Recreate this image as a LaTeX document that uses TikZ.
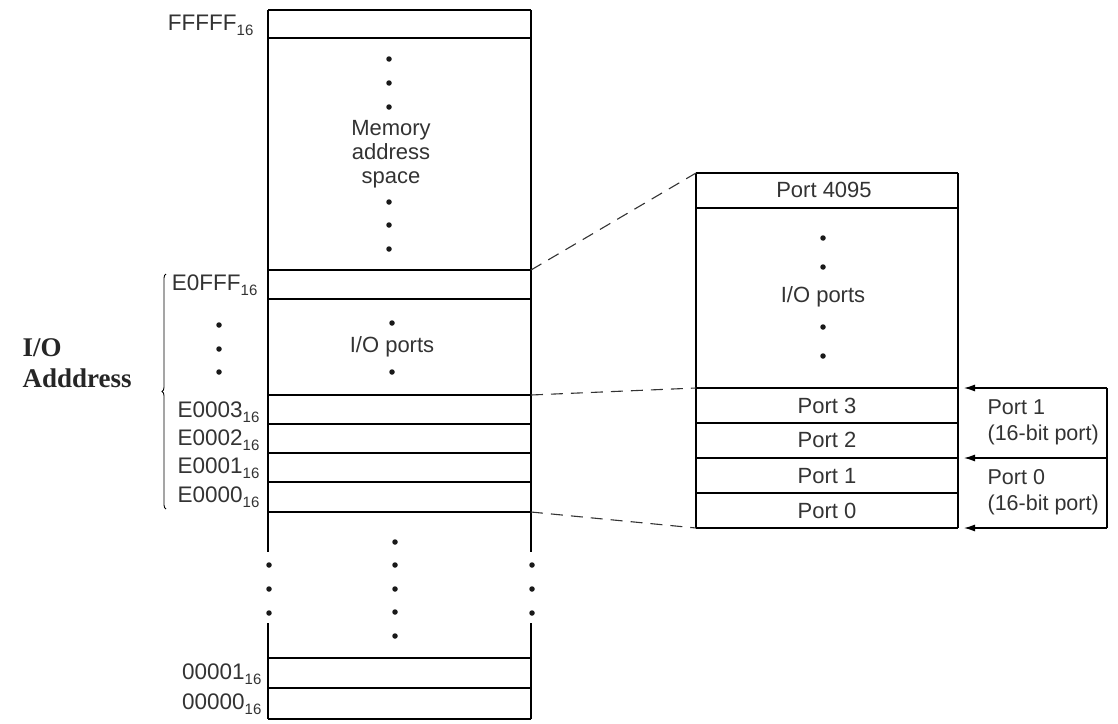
\documentclass[tikz,border=0pt]{standalone}
\usepackage{fontspec}
\setmainfont{Liberation Sans}
\newfontfamily\ioserif{Liberation Serif}
\usetikzlibrary{arrows.meta,decorations.pathreplacing}
\newcommand{\hexsub}[1]{{\fontsize{15}{15}\selectfont\raisebox{-0.6ex}{#1}}}

\begin{document}
\begin{tikzpicture}[x=1pt, y=-1pt, line width=1.2pt,
    txt/.style={font=\fontsize{22}{24}\selectfont, inner sep=0pt, text=black!80},
    addr/.style={txt, anchor=east, font=\fontsize{22.5}{24}\selectfont},
    dot/.style={circle, fill=black!90, inner sep=0pt, minimum size=5.5pt},
    zoomline/.style={dashed, dash pattern=on 12pt off 8pt, line width=1.1pt, black!80}]
    \useasboundingbox (0,0) rectangle (1118,723);

    % Memory map (left column)
    \foreach \y in {10,38,270,299,395,424,453,482,512,658,688,719}
        \draw (268,\y) -- (531,\y);
    \draw (268,10) -- (268,552) (268,623) -- (268,719);
    \draw (531,10) -- (531,552) (531,623) -- (531,719);
    \coordinate (ioTop) at (531,270);
    \coordinate (ioMid) at (531,395);
    \coordinate (ioBot) at (531,512);

    % Addresses
    \node[addr] (aFFFFF) at (254,25) {FFFFF\hexsub{16}};
    \node[addr] (aE0FFF) at (258,285) {E0FFF\hexsub{16}};
    \node[addr] (aE0003) at (260,412) {E0003\hexsub{16}};
    \node[addr] (aE0002) at (260,440) {E0002\hexsub{16}};
    \node[addr] (aE0001) at (260,468) {E0001\hexsub{16}};
    \node[addr] (aE0000) at (260,497) {E0000\hexsub{16}};
    \node[addr] (a00001) at (262,674) {00001\hexsub{16}};
    \node[addr] (a00000) at (262,704) {00000\hexsub{16}};

    % Labels and dots inside the memory map
    \node[txt, align=center] (memspace) at (391,154) {Memory\\address\\space};
    \node[txt] (ioleft) at (392,347) {I/O ports};
    \foreach \y in {59,83,107,202,225,249}
        \node[dot] at (389,\y) {};
    \foreach \y in {323,372}
        \node[dot] at (392,\y) {};
    \foreach \y in {325,349,372}
        \node[dot] at (219,\y) {};
    \foreach \y in {542,565,589,612,636}
        \node[dot] at (395,\y) {};
    \foreach \y in {565,589,613} {
        \node[dot] at (269,\y) {};
        \node[dot] at (532,\y) {};
    }

    % Brace and I/O address label
    \draw[line width=0.9pt, decorate, decoration={brace, amplitude=4pt}] (166,509) -- (166,274);
    \node[font=\ioserif\bfseries\fontsize{27}{31}\selectfont, text=black!85, anchor=west,
        align=left, inner sep=0pt] (ioaddr) at (22,363) {I/O\\Adddress};

    % Port column (right)
    \foreach \y in {173,208,388,423,458,493,528}
        \draw (696,\y) -- (958,\y);
    \draw (696,173) -- (696,528);
    \draw (958,173) -- (958,528);
    \coordinate (pTop) at (696,173);
    \coordinate (p3Top) at (696,388);
    \coordinate (p0Bot) at (696,528);

    \node[txt] (p4095) at (824,190) {Port 4095};
    \node[txt] (ioright) at (823,297) {I/O ports};
    \foreach \y in {238,267,327,356}
        \node[dot] at (823,\y) {};
    \node[txt] (port3) at (827,406) {Port 3};
    \node[txt] (port2) at (827,440) {Port 2};
    \node[txt] (port1) at (827,476) {Port 1};
    \node[txt] (port0) at (827,511) {Port 0};

    % Zoom lines
    \draw[zoomline] (ioTop) -- (pTop);
    \draw[zoomline] (ioMid) -- (p3Top);
    \draw[zoomline] (ioBot) -- (p0Bot);

    % 16-bit ports
    \coordinate (w1) at (1107,388);
    \coordinate (w2) at (1107,458);
    \coordinate (w3) at (1107,528);
    \draw (w1) -- (w3);
    \foreach \c in {w1,w2,w3}
        \draw[-{Latex[length=11pt,width=7pt]}] (\c) -- ++(-143,0);
    \node[txt, anchor=west, align=left, font=\fontsize{21.5}{26}\selectfont] (wide1) at (987,422) {Port 1\\(16-bit port)};
    \node[txt, anchor=west, align=left, font=\fontsize{21.5}{26}\selectfont] (wide0) at (987,492) {Port 0\\(16-bit port)};
\end{tikzpicture}
\end{document}
